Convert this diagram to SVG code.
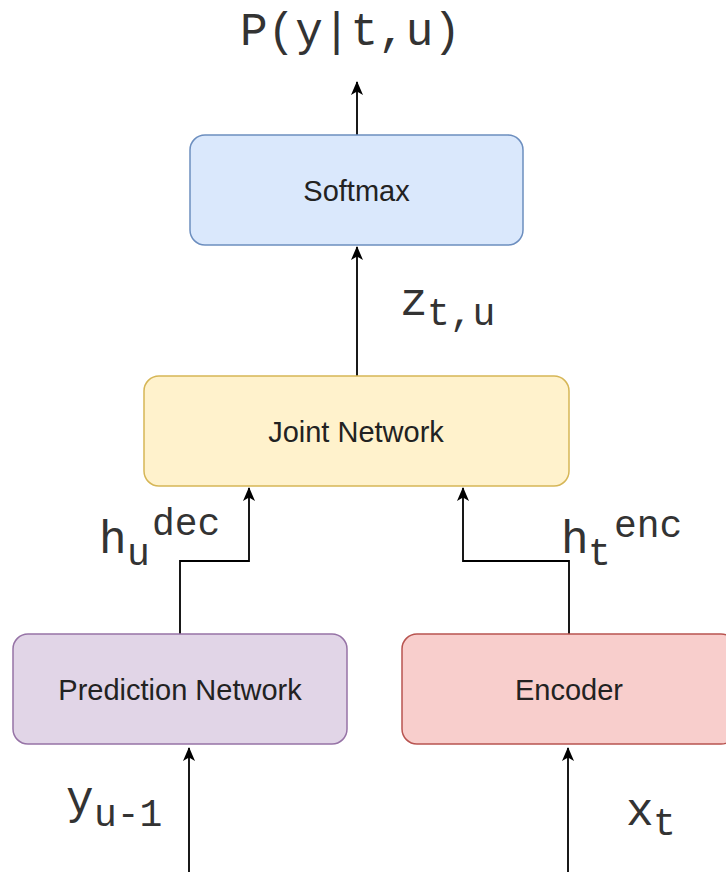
<svg xmlns="http://www.w3.org/2000/svg" width="726" height="872" viewBox="0 0 726 872">
  <style>
    .box { stroke-width: 1.5; }
    .lbl { font-family: "Liberation Sans", Arial, sans-serif; font-size: 29px; fill: #222; text-anchor: middle; }
    .math { font-family: "Liberation Mono", "Courier New", monospace; font-size: 46px; fill: #333; }
    .sub { font-size: 38px; }
    .edge { fill: none; stroke: #000; stroke-width: 1.8; }
  </style>
  <defs>
    <marker id="arrow" viewBox="0 0 14 12" refX="13" refY="6" markerWidth="14" markerHeight="12" markerUnits="userSpaceOnUse" orient="auto">
      <path d="M0,0 L14,6 L0,12 L3.5,6 Z" fill="#000"/>
    </marker>
  </defs>

  <rect width="726" height="872" fill="#fff"/>

  <!-- connectors -->
  <g id="edges">
    <path class="edge" d="M357,135 V82" marker-end="url(#arrow)"/>
    <path class="edge" d="M357,376 V247" marker-end="url(#arrow)"/>
    <path class="edge" d="M180,634 V561 H249 V488" marker-end="url(#arrow)"/>
    <path class="edge" d="M569,634 V561 H463 V488" marker-end="url(#arrow)"/>
    <path class="edge" d="M189,872 V748" marker-end="url(#arrow)"/>
    <path class="edge" d="M568,872 V748" marker-end="url(#arrow)"/>
  </g>

  <!-- nodes -->
  <g id="softmax">
    <rect class="box" x="190" y="135" width="333" height="110" rx="15" fill="#dae8fc" stroke="#6c8ebf"/>
    <text class="lbl" x="356.5" y="201">Softmax</text>
  </g>
  <g id="joint">
    <rect class="box" x="144" y="376" width="425" height="110" rx="15" fill="#fff2cc" stroke="#d6b656"/>
    <text class="lbl" x="356" y="442">Joint Network</text>
  </g>
  <g id="prediction">
    <rect class="box" x="13" y="634" width="334" height="110" rx="15" fill="#e1d5e7" stroke="#9673a6"/>
    <text class="lbl" x="180" y="700">Prediction Network</text>
  </g>
  <g id="encoder">
    <rect class="box" x="402" y="634" width="334" height="110" rx="15" fill="#f8cecc" stroke="#b85450"/>
    <text class="lbl" x="569" y="700">Encoder</text>
  </g>

  <!-- math labels -->
  <g id="labels">
    <text class="math" x="240" y="45">P(y|t,u)</text>
    <text class="math" x="400" y="315">z<tspan class="sub" x="427" y="325">t,u</tspan></text>
    <text class="math" x="99" y="553">h<tspan class="sub" x="127" y="565">u</tspan><tspan class="sub" x="152" y="535">dec</tspan></text>
    <text class="math" x="561" y="553">h<tspan class="sub" x="588" y="565">t</tspan><tspan class="sub" x="614" y="537">enc</tspan></text>
    <text class="math" x="66" y="813">y<tspan class="sub" x="94" y="826">u-1</tspan></text>
    <text class="math" x="626" y="825">x<tspan class="sub" x="653" y="835">t</tspan></text>
  </g>
</svg>
